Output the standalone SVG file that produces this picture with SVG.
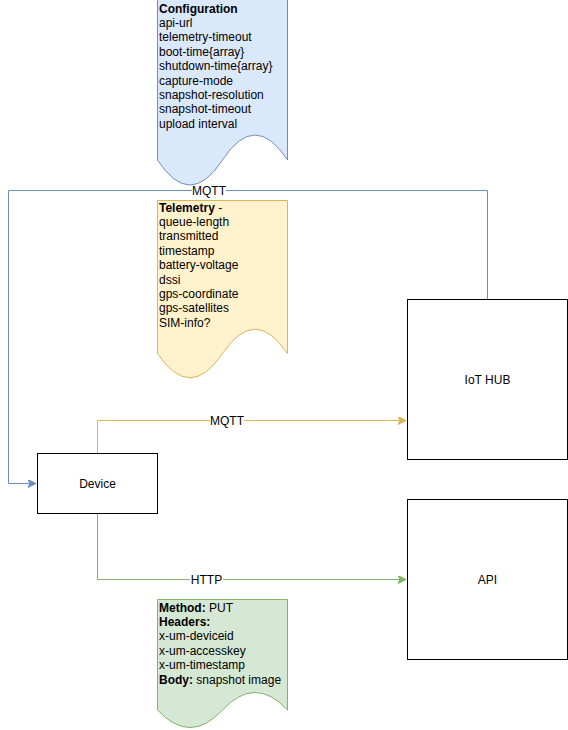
<svg xmlns="http://www.w3.org/2000/svg" width="568" height="730" viewBox="0 0 568 730">
  <style>
    text { font-family: "Liberation Sans", Arial, Helvetica, sans-serif; font-size: 12px; fill: #000000; }
    .box { fill: #ffffff; stroke: #000000; stroke-width: 1; }
    .mid { text-anchor: middle; }
    .b { font-weight: bold; }
    .edge { fill: none; stroke-width: 1; }
    .lbl { fill: #ffffff; stroke: none; }
  </style>
  <defs>
    <marker id="arrBlue" markerUnits="userSpaceOnUse" markerWidth="10" markerHeight="10" refX="8" refY="4" orient="auto">
      <path d="M8,4 L0,0 L2,4 L0,8 Z" fill="#6c8ebf" stroke="#6c8ebf" stroke-width="1"/>
    </marker>
    <marker id="arrYellow" markerUnits="userSpaceOnUse" markerWidth="10" markerHeight="10" refX="8" refY="4" orient="auto">
      <path d="M8,4 L0,0 L2,4 L0,8 Z" fill="#d6b656" stroke="#d6b656" stroke-width="1"/>
    </marker>
    <marker id="arrGreen" markerUnits="userSpaceOnUse" markerWidth="10" markerHeight="10" refX="8" refY="4" orient="auto">
      <path d="M8,4 L0,0 L2,4 L0,8 Z" fill="#82b366" stroke="#82b366" stroke-width="1"/>
    </marker>
  </defs>

  <rect width="568" height="730" fill="#ffffff"/>

  <!-- connectors -->
  <g id="connectors">
    <!-- IoT HUB to Device (MQTT downlink) -->
    <path class="edge" stroke="#6c8ebf" d="M487.5,299.5 L487.5,190.5 L8.5,190.5 L8.5,483.5 L36,483.5" marker-end="url(#arrBlue)"/>
    <rect class="lbl" x="192" y="183" width="34" height="14"/>
    <text class="mid" x="209" y="194.5">MQTT</text>

    <!-- Device to IoT HUB (MQTT telemetry) -->
    <path class="edge" stroke="#d6b656" d="M97.5,453.5 L97.5,420.5 L406,420.5" marker-end="url(#arrYellow)"/>
    <rect class="lbl" x="210" y="413" width="34" height="14"/>
    <text class="mid" x="227" y="424.5">MQTT</text>

    <!-- Device to API (HTTP upload) -->
    <path class="edge" stroke="#82b366" d="M97.5,513.5 L97.5,579.5 L406,579.5" marker-end="url(#arrGreen)"/>
    <rect class="lbl" x="190" y="572" width="33" height="14"/>
    <text class="mid" x="206.5" y="583.5">HTTP</text>
  </g>

  <!-- configuration document -->
  <g id="configuration">
    <path d="M157.5,-0.5 L287.5,-0.5 L287.5,160 Q255,110 222.5,160 Q190,210 157.5,160 Z" fill="#dae8fc" stroke="#6c8ebf" stroke-width="1"/>
    <text x="159" y="12.5"><tspan class="b">Configuration</tspan>
      <tspan x="159" dy="14.4">api-url</tspan>
      <tspan x="159" dy="14.4">telemetry-timeout</tspan>
      <tspan x="159" dy="14.4">boot-time{array}</tspan>
      <tspan x="159" dy="14.4">shutdown-time{array}</tspan>
      <tspan x="159" dy="14.4">capture-mode</tspan>
      <tspan x="159" dy="14.4">snapshot-resolution</tspan>
      <tspan x="159" dy="14.4">snapshot-timeout</tspan>
      <tspan x="159" dy="14.4">upload interval</tspan>
    </text>
  </g>

  <!-- telemetry document -->
  <g id="telemetry">
    <path d="M157.5,200.5 L287.5,200.5 L287.5,353.5 Q255,305 222.5,353.5 Q190,402 157.5,353.5 Z" fill="#fff2cc" stroke="#d6b656" stroke-width="1"/>
    <text x="159" y="211.5"><tspan class="b">Telemetry</tspan> -
      <tspan x="159" dy="14.4">queue-length</tspan>
      <tspan x="159" dy="14.4">transmitted</tspan>
      <tspan x="159" dy="14.4">timestamp</tspan>
      <tspan x="159" dy="14.4">battery-voltage</tspan>
      <tspan x="159" dy="14.4">dssi</tspan>
      <tspan x="159" dy="14.4">gps-coordinate</tspan>
      <tspan x="159" dy="14.4">gps-satellites</tspan>
      <tspan x="159" dy="14.4">SIM-info?</tspan>
    </text>
  </g>

  <!-- HTTP request document -->
  <g id="request">
    <path d="M157.5,599.5 L287.5,599.5 L287.5,710 Q255,675 222.5,710 Q190,745 157.5,710 Z" fill="#d5e8d4" stroke="#82b366" stroke-width="1"/>
    <text x="159" y="611.5"><tspan class="b">Method:</tspan> PUT
      <tspan x="159" dy="14.4" class="b">Headers:</tspan>
      <tspan x="159" dy="14.4">x-um-deviceid</tspan>
      <tspan x="159" dy="14.4">x-um-accesskey</tspan>
      <tspan x="159" dy="14.4">x-um-timestamp</tspan>
      <tspan x="159" dy="14.4" class="b">Body:</tspan> snapshot image
    </text>
  </g>

  <!-- device -->
  <g id="device">
    <rect class="box" x="37.5" y="453.5" width="120" height="60"/>
    <text class="mid" x="97.5" y="487.5">Device</text>
  </g>

  <!-- IoT hub -->
  <g id="iot-hub">
    <rect class="box" x="407.5" y="299.5" width="160" height="160"/>
    <text class="mid" x="487.5" y="384">IoT HUB</text>
  </g>

  <!-- API -->
  <g id="api">
    <rect class="box" x="407.5" y="499.5" width="160" height="160"/>
    <text class="mid" x="487.5" y="583.5">API</text>
  </g>
</svg>
